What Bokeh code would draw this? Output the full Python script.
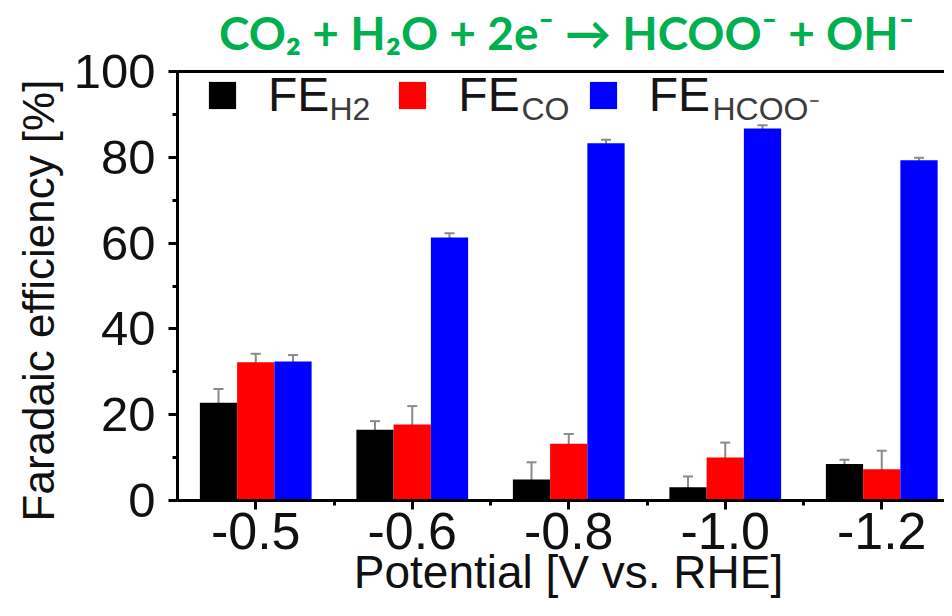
import numpy as np
from bokeh.plotting import figure
from bokeh.models import (Range1d, FixedTicker, SingleIntervalTicker, CustomJSTickFormatter,
                          ColumnDataSource, Whisker, TeeHead, Span, Label, Legend, LegendItem)
from bokeh.embed import file_html
from bokeh.resources import INLINE

# ---- data ----
potentials = ["-0.5", "-0.6", "-0.8", "-1.0", "-1.2"]
fe_h2 = [22.8, 16.5, 4.9, 3.1, 8.5]
fe_h2_err = [3.2, 2.0, 4.0, 2.5, 1.0]
fe_co = [32.2, 17.7, 13.2, 10.0, 7.3]
fe_co_err = [2.0, 4.3, 2.3, 3.5, 4.3]
fe_hcoo = [32.4, 61.3, 83.3, 86.7, 79.3]
fe_hcoo_err = [1.5, 1.0, 0.8, 0.8, 0.6]

series_names = ["H2", "CO", "HCOO⁻"]
series_colors = ["#000000", "#ff0000", "#0000ff"]
title_text = "CO₂ + H₂O + 2e⁻ → HCOO⁻ + OH⁻"
x_title = "Potential [V vs. RHE]"
y_title = "Faradaic efficiency [%]"

# ---- layout constants (canvas pixels) ----
W, H = 944, 600
AX_L, AX_TOP, AX_BOT = 177, 71, 500      # y=100 at AX_TOP, y=0 at AX_BOT
ppu_y = (AX_BOT - AX_TOP) / 100.0
group_px = 156.5
x_end = (W - AX_L) / group_px
y_lo = -(H - AX_BOT) / ppu_y
y_hi = 100 + AX_TOP / ppu_y
bar_w = 0.238
FONT = "Liberation Sans"
ERR = "#8a8a8a"

def px2x(px):
    return (px - AX_L) / group_px

def py2y(py):
    return (AX_BOT - py) / ppu_y

centers = np.arange(len(potentials)) + 0.5

p = figure(width=W, height=H, output_backend="svg", toolbar_location=None,
           x_range=Range1d(0, x_end), y_range=Range1d(y_lo, y_hi),
           min_border_left=AX_L, min_border_right=0,
           min_border_top=0, min_border_bottom=0)
p.outline_line_color = None
p.xgrid.visible = False
p.ygrid.visible = False
p.background_fill_color = "white"
p.border_fill_color = "white"

renderers = []
for k, (vals, errs, color) in enumerate(zip([fe_h2, fe_co, fe_hcoo],
                                            [fe_h2_err, fe_co_err, fe_hcoo_err],
                                            series_colors)):
    v = np.array(vals)
    e = np.array(errs)
    src = ColumnDataSource(dict(x=centers + (k - 1) * bar_w, top=v,
                                upper=v + e, lower=np.clip(v - e, 0, None)))
    r = p.vbar(x="x", top="top", bottom=0, width=bar_w, source=src,
               fill_color=color, line_color=None)
    renderers.append(r)
    p.add_layout(Whisker(source=src, base="x", upper="upper", lower="lower",
                         dimension="height", line_color=ERR, line_width=2,
                         upper_head=TeeHead(size=10, line_color=ERR, line_width=2),
                         lower_head=TeeHead(size=10, line_color=ERR, line_width=2)))

# top border line of the plot box
p.add_layout(Span(location=100, dimension="width", line_color="black", line_width=3))

# axes
for ax in (p.xaxis[0], p.yaxis[0]):
    ax.axis_line_width = 3
    ax.major_tick_line_width = 3
    ax.minor_tick_line_width = 3
    ax.major_tick_in = 0
    ax.major_tick_out = 9
    ax.minor_tick_in = 0
    ax.minor_tick_out = 5
    ax.major_label_text_font = FONT
    ax.major_label_text_color = "#111111"

p.xaxis.fixed_location = 0
p.xaxis.ticker = FixedTicker(ticks=list(centers), minor_ticks=[1, 2, 3, 4])
p.xaxis.formatter = CustomJSTickFormatter(args=dict(labels=potentials),
                                          code="return labels[Math.round(tick - 0.5)];")
p.xaxis.major_label_text_font_size = "52px"
p.xaxis.major_label_standoff = 3

p.yaxis.bounds = (0, 100)
p.yaxis.ticker = SingleIntervalTicker(interval=20, num_minor_ticks=2)
p.yaxis.major_label_text_font_size = "49px"
p.yaxis.major_label_standoff = 13
p.yaxis.axis_label = y_title
p.yaxis.axis_label_text_font = FONT
p.yaxis.axis_label_text_font_size = "44px"
p.yaxis.axis_label_text_font_style = "normal"
p.yaxis.axis_label_text_color = "#111111"
p.yaxis.axis_label_standoff = 8

# x axis title
p.add_layout(Label(x=px2x(568), y=py2y(571), text=x_title,
                   text_align="center", text_baseline="alphabetic",
                   text_font=FONT, text_font_size="46px", text_color="#111111"))

# reaction title
p.add_layout(Label(x=px2x(566), y=py2y(32), text=title_text,
                   text_align="center", text_baseline="alphabetic",
                   text_font="Lato", text_font_style="bold", text_font_size="46px",
                   text_color="#00b050"))

# legend
legend = Legend(items=[LegendItem(label="FE", renderers=[r]) for r in renderers],
                orientation="horizontal", location=(28, H - 122),
                glyph_width=34, glyph_height=34, label_standoff=29, spacing=66,
                padding=0, margin=0, border_line_color=None,
                background_fill_color=None, background_fill_alpha=0,
                label_text_font=FONT, label_text_font_size="48px",
                label_text_color="#151515")
p.add_layout(legend, "center")

sub_px = [329, 521, 712]
for name, sx in zip(series_names, sub_px):
    p.add_layout(Label(x=px2x(sx), y=py2y(108), text=name, text_align="left",
                       text_baseline="alphabetic", text_font=FONT, text_font_size="32px",
                       text_color="#3c3c3c"))

open("out.html", "w").write(file_html(p, INLINE))
